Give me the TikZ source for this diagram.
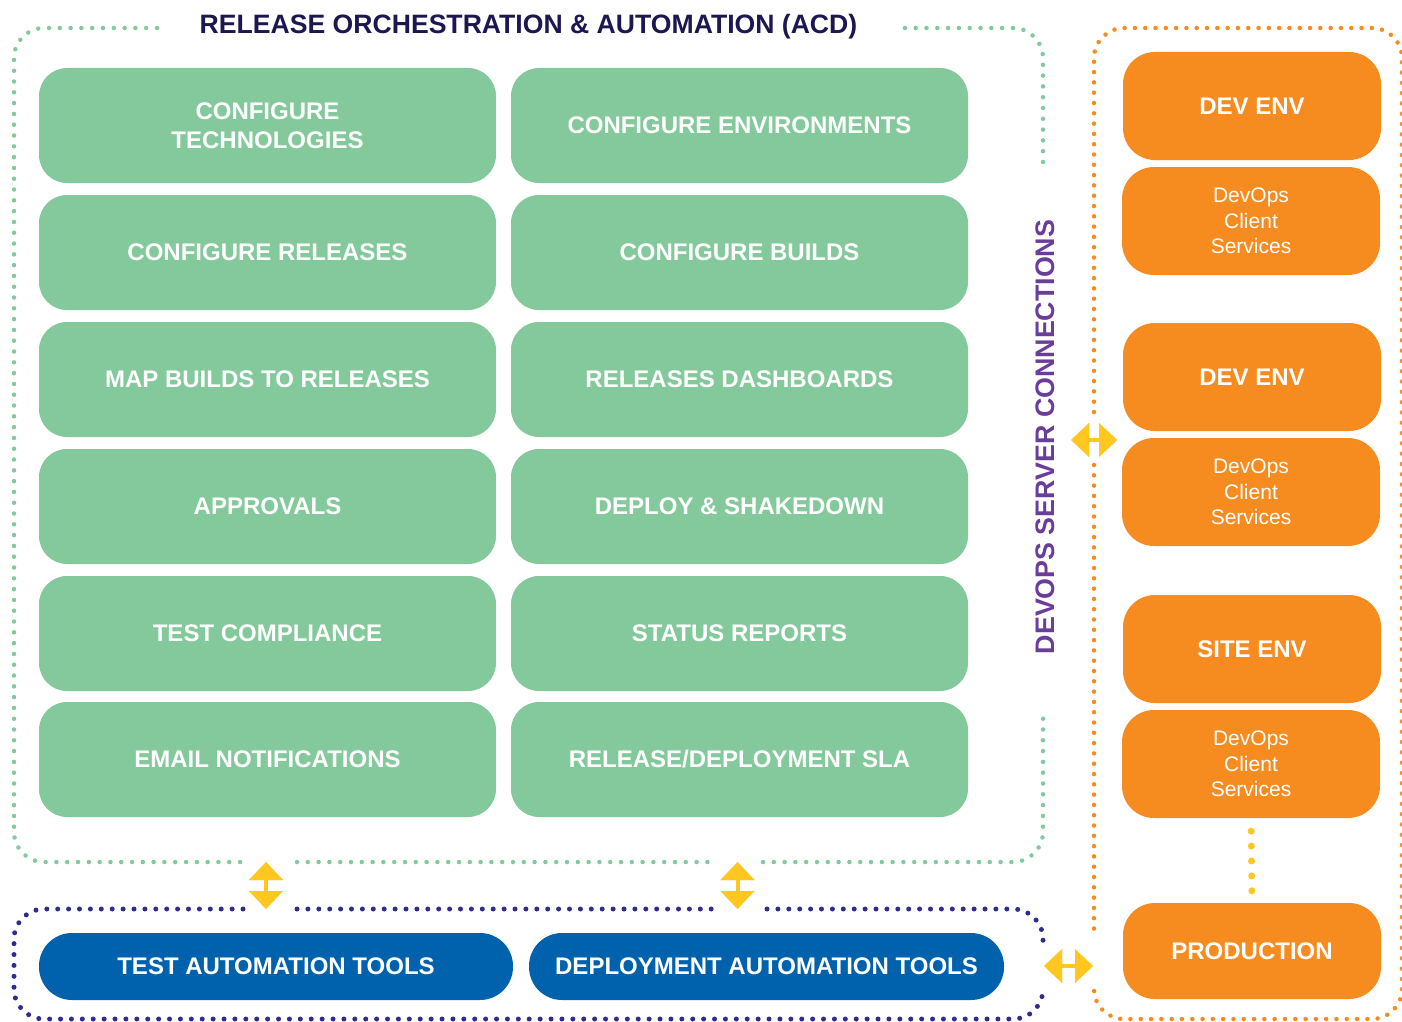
\documentclass[tikz,border=0pt]{standalone}
\usepackage{fontspec}
\setmainfont{Liberation Sans}
\usetikzlibrary{arrows.meta}
\definecolor{gfill}{HTML}{84C99B}
\definecolor{ofill}{HTML}{F68B1F}
\definecolor{bfill}{HTML}{0061AC}
\definecolor{yel}{HTML}{FFC720}
\definecolor{navy}{HTML}{1C1651}
\definecolor{purp}{HTML}{6A3D9A}
\definecolor{bdot}{HTML}{2E2C8F}
\begin{document}
\begin{tikzpicture}[x=1pt,y=-1pt,
  gbox/.style={fill=gfill, rounded corners=28pt, minimum width=457pt, minimum height=115pt, text=white, font=\fontsize{24}{29}\selectfont\bfseries, align=center, inner sep=0pt},
  obox/.style={fill=ofill, rounded corners=32pt, minimum width=258pt, minimum height=108pt, text=white, font=\fontsize{24}{29}\selectfont\bfseries, align=center, inner sep=0pt},
  cbox/.style={obox, font=\fontsize{21}{25.5}\selectfont},
  bbox/.style={fill=bfill, rounded corners=33pt, minimum height=67pt, text=white, font=\fontsize{24}{28}\selectfont\bfseries, inner sep=0pt},
  gdot/.style={draw=gfill, line width=4.5pt, line cap=round, dash pattern=on 0pt off 10.8pt, rounded corners=30pt},
  bdotl/.style={draw=bdot, line width=5pt, line cap=round, dash pattern=on 0pt off 10.9pt, rounded corners=30pt},
  odot/.style={draw=ofill, line width=4.5pt, line cap=round, dash pattern=on 0pt off 10.3pt, rounded corners=30pt},
  ydots/.style={draw=yel, line width=7pt, line cap=round, dash pattern=on 0pt off 14.9pt},
  yarr/.style={draw=yel, line width=4pt, {Triangle[length=18pt,width=34pt,line width=0.01pt]}-{Triangle[length=18pt,width=34pt,line width=0.01pt]}},
]
\useasboundingbox (0,0) rectangle (1402,1022);
\clip (0,0) rectangle (1402,1022);

% dotted frames
\draw[gdot] (157,28) -- (14,28) -- (14,862) -- (243,862);
\draw[gdot] (297,862) -- (713,862);
\draw[gdot] (763,862) -- (1043,862) -- (1043,710);
\draw[gdot] (1043,162) -- (1043,28) -- (900,28);

\draw[bdotl] (243,909) -- (14,909) -- (14,1019) -- (1043,1019) -- (1043,990);
\draw[bdotl] (297,909) -- (713,909);
\draw[bdotl] (767,909) -- (1043,909) -- (1043,941);

\draw[odot] (1094,412) -- (1094,28) -- (1402,28) -- (1402,1019) -- (1094,1019) -- (1094,991);
\draw[odot] (1094,465) -- (1094,937);

% titles
\node[text=navy, font=\fontsize{26.6}{30}\selectfont\bfseries] (title) at (528.5,27) {RELEASE ORCHESTRATION \& AUTOMATION (ACD)};
\node[text=purp, font=\fontsize{26.8}{30}\selectfont\bfseries, rotate=90] (vtitle) at (1045,437) {DEVOPS SERVER CONNECTIONS};

% green boxes
\node[gbox] (g11) at (267.5,125.5) {CONFIGURE\\TECHNOLOGIES};
\node[gbox] (g12) at (739.5,125.5) {CONFIGURE ENVIRONMENTS};
\node[gbox] (g21) at (267.5,252.5) {CONFIGURE RELEASES};
\node[gbox] (g22) at (739.5,252.5) {CONFIGURE BUILDS};
\node[gbox] (g31) at (267.5,379.5) {MAP BUILDS TO RELEASES};
\node[gbox] (g32) at (739.5,379.5) {RELEASES DASHBOARDS};
\node[gbox] (g41) at (267.5,506.5) {APPROVALS};
\node[gbox] (g42) at (739.5,506.5) {DEPLOY \& SHAKEDOWN};
\node[gbox] (g51) at (267.5,633.5) {TEST COMPLIANCE};
\node[gbox] (g52) at (739.5,633.5) {STATUS REPORTS};
\node[gbox] (g61) at (267.5,759.5) {EMAIL NOTIFICATIONS};
\node[gbox] (g62) at (739.5,759.5) {RELEASE/DEPLOYMENT SLA};

% blue boxes
\node[bbox, minimum width=474pt] (b1) at (276,966.5) {TEST AUTOMATION TOOLS};
\node[bbox, minimum width=475pt] (b2) at (766.5,966.5) {DEPLOYMENT AUTOMATION TOOLS};

% orange boxes
\node[obox] (e1) at (1252,106) {DEV ENV};
\node[cbox] (c1) at (1251,221) {DevOps\\Client\\Services};
\node[obox] (e2) at (1252,377) {DEV ENV};
\node[cbox] (c2) at (1251,492) {DevOps\\Client\\Services};
\node[obox] (e3) at (1252,649) {SITE ENV};
\node[cbox] (c3) at (1251,764) {DevOps\\Client\\Services};
\node[obox, minimum height=96pt] (prod) at (1252,951) {PRODUCTION};

\draw[ydots, shorten <=13pt, shorten >=11pt] (c3.south) -- (prod.north);

% yellow double arrows
\coordinate (ga1) at (266,862);
\coordinate (ba1) at (266,909);
\coordinate (ga2) at (737.5,862);
\coordinate (ba2) at (737.5,909);
\coordinate (acdR) at (1071,440);
\coordinate (envL) at (1117,440);
\coordinate (toolR) at (1044,966);
\coordinate (prodL) at (1093,966);
\draw[yarr] (ga1) -- (ba1);
\draw[yarr] (ga2) -- (ba2);
\draw[yarr] (acdR) -- (envL);
\draw[yarr] (toolR) -- (prodL);
\end{tikzpicture}
\end{document}
